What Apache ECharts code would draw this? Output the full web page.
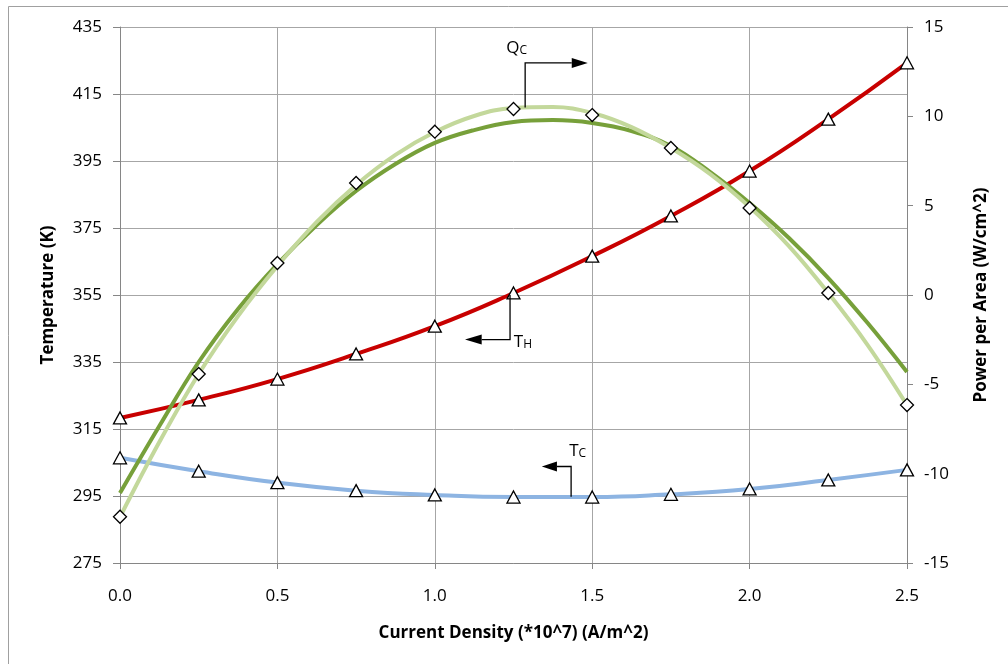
<!DOCTYPE html>
<html>
<head>
<meta charset="utf-8">
<script src="https://cdn.jsdelivr.net/npm/echarts@6/dist/echarts.min.js"></script>
<style>
html,body{margin:0;padding:0;background:#fff;}
#chart{width:1008px;height:664px;}
</style>
</head>
<body>
<div id="chart"></div>
<script>
// Current density (*10^7 A/m^2) at the measured points
var currentDensity = [0, 0.25, 0.5, 0.75, 1.0, 1.25, 1.5, 1.75, 2.0, 2.25, 2.5];
// Hot side temperature T_H (K), left axis
var tempHot = [318.3, 323.7, 329.9, 337.4, 345.7, 355.6, 366.6, 378.6, 392.0, 407.5, 424.3];
// Cold side temperature T_C (K), left axis
var tempCold = [306.4, 302.4, 299.0, 296.6, 295.3, 294.7, 294.7, 295.5, 297.1, 299.8, 302.8];
// Cooling power Q_C (W/cm^2), right axis - diamond points
var coolingPower = [-12.41, -4.42, 1.79, 6.27, 9.14, 10.41, 10.07, 8.23, 4.87, 0.11, -6.16];

// Curves at finer steps (right axis, W/cm^2)
var curveDensity = [0, 0.125, 0.25, 0.375, 0.5, 0.625, 0.75, 0.875, 1.0, 1.125, 1.25,
                    1.375, 1.5, 1.625, 1.75, 1.875, 2.0, 2.125, 2.25, 2.375, 2.5];
var coolingFit = [-12.43, -8.23, -4.42, -1.18, 1.62, 4.09, 6.16, 7.84, 9.12, 10.02, 10.47,
                  10.52, 10.19, 9.40, 8.23, 6.77, 4.93, 2.74, 0.11, -2.80, -6.16];
var coolingModel = [-11.08, -7.33, -3.75, -0.78, 1.73, 3.92, 5.82, 7.33, 8.51, 9.23, 9.68,
                    9.79, 9.63, 9.18, 8.34, 6.88, 5.15, 3.19, 0.95, -1.57, -4.31];

var xTicks = ['0.0', '0.5', '1.0', '1.5', '2.0', '2.5'];

function pairs(xs, ys) { return xs.map(function (x, i) { return [x, ys[i]]; }); }

var FONT = 'Open Sans';
var chart = echarts.init(document.getElementById('chart'), null, {renderer: 'canvas'});

var option = {
  animation: false,
  backgroundColor: '#ffffff',
  grid: {left: 120, right: 101, top: 27, bottom: 101, containLabel: false},
  xAxis: {
    type: 'value', min: 0, max: 2.5, interval: 0.5,
    name: 'Current Density (*10^7) (A/m^2)', nameLocation: 'middle', nameGap: 62,
    nameTextStyle: {fontFamily: FONT, fontWeight: 'bold', fontSize: 17, color: '#000'},
    axisLine: {show: true, onZero: false, lineStyle: {color: '#868686', width: 1}},
    axisTick: {show: true, length: 6, lineStyle: {color: '#868686'}},
    axisLabel: {fontFamily: FONT, fontSize: 17, color: '#000', margin: 25,
      formatter: function (v) { var i = Math.round(v / 0.5); return xTicks[i] !== undefined ? xTicks[i] : v.toFixed(1); }},
    splitLine: {show: true, lineStyle: {color: '#a6a6a6', width: 1}}
  },
  yAxis: [
    {
      type: 'value', min: 275, max: 435, interval: 20, position: 'left',
      name: 'Temperature (K)', nameLocation: 'middle', nameGap: 63, nameRotate: 90,
      nameTextStyle: {fontFamily: FONT, fontWeight: 'bold', fontSize: 17, color: '#000'},
      axisLine: {show: true, lineStyle: {color: '#868686', width: 1}},
      axisTick: {show: true, length: 7, lineStyle: {color: '#868686'}},
      axisLabel: {fontFamily: FONT, fontSize: 17, color: '#000', margin: 18},
      splitLine: {show: true, lineStyle: {color: '#a6a6a6', width: 1}}
    },
    {
      type: 'value', min: -15, max: 15, interval: 5, position: 'right',
      name: 'Power per Area (W/cm^2)', nameLocation: 'middle', nameGap: 66, nameRotate: 90,
      nameTextStyle: {fontFamily: FONT, fontWeight: 'bold', fontSize: 17, color: '#000'},
      axisLine: {show: true, lineStyle: {color: '#868686', width: 1}},
      axisTick: {show: true, length: 6, lineStyle: {color: '#868686'}},
      axisLabel: {fontFamily: FONT, fontSize: 17, color: '#000', margin: 17},
      splitLine: {show: false}
    }
  ],
  series: [
    {
      name: 'T_C', type: 'line', yAxisIndex: 0, smooth: 0.5,
      data: pairs(currentDensity, tempCold),
      lineStyle: {color: '#8db4e2', width: 4},
      symbol: 'triangle', symbolSize: [13, 12], showSymbol: true,
      itemStyle: {color: '#ffffff', borderColor: '#000', borderWidth: 1.3},
      z: 2
    },
    {
      name: 'T_H', type: 'line', yAxisIndex: 0, smooth: 0.5,
      data: pairs(currentDensity, tempHot),
      lineStyle: {color: '#c80000', width: 4},
      symbol: 'triangle', symbolSize: [13, 12], showSymbol: true,
      itemStyle: {color: '#ffffff', borderColor: '#000', borderWidth: 1.3},
      z: 3
    },
    {
      name: 'Q_C model', type: 'line', yAxisIndex: 1, smooth: 0.4,
      data: pairs(curveDensity, coolingModel),
      lineStyle: {color: '#77a03a', width: 4},
      symbol: 'none',
      z: 4
    },
    {
      name: 'Q_C fit', type: 'line', yAxisIndex: 1, smooth: 0.4,
      data: pairs(curveDensity, coolingFit),
      lineStyle: {color: '#c3d89b', width: 4},
      symbol: 'none',
      z: 5
    },
    {
      name: 'Q_C', type: 'scatter', yAxisIndex: 1,
      data: pairs(currentDensity, coolingPower),
      symbol: 'diamond', symbolSize: [13, 13],
      itemStyle: {color: '#ffffff', borderColor: '#000', borderWidth: 1.3, opacity: 1},
      z: 6
    }
  ]
};
chart.setOption(option);

// Annotation callouts (data coordinates) with axis index
var qcCallout = {axis: 1, pts: [[1.287, 10.5], [1.287, 12.99], [1.435, 12.99]], tip: [1.486, 12.99]};
var thCallout = {axis: 0, pts: [[1.239, 355.0], [1.239, 341.7], [1.149, 341.7]], tip: [1.096, 341.7]};
var tcCallout = {axis: 0, pts: [[1.433, 294.8], [1.433, 303.8], [1.388, 303.8]], tip: [1.340, 303.8]};

function px(axis, p) {
  return chart.convertToPixel({xAxisIndex: 0, yAxisIndex: axis}, p);
}

function callout(c) {
  var pts = c.pts.map(function (p) { return px(c.axis, p); });
  var tip = px(c.axis, c.tip);
  var last = pts[pts.length - 1];
  return [{
    type: 'polyline', shape: {points: pts}, silent: true,
    style: {stroke: '#000', lineWidth: 1.3, fill: null}, z: 100
  }, {
    type: 'polygon', silent: true,
    shape: {points: [[tip[0], tip[1]], [last[0], last[1] - 5], [last[0], last[1] + 5]]},
    style: {fill: '#000'}, z: 100
  }];
}

function subLabel(main, sub, x, y) {
  return {
    type: 'text', x: x, y: y, silent: true, z: 100,
    style: {
      text: '{m|' + main + '}{s|' + sub + '}',
      rich: {
        m: {fontFamily: FONT, fontSize: 17, fill: '#000', verticalAlign: 'bottom'},
        s: {fontFamily: FONT, fontSize: 12, fill: '#000', verticalAlign: 'bottom'}
      },
      verticalAlign: 'top'
    }
  };
}

var qcL = px(1, [1.227, 14.27]);
var thL = px(0, [1.251, 343.6]);
var tcL = px(0, [1.427, 310.8]);

var gfx = [].concat(callout(qcCallout), callout(thCallout), callout(tcCallout));
gfx.push(subLabel('Q', 'C', qcL[0], qcL[1]));
gfx.push(subLabel('T', 'H', thL[0], thL[1]));
gfx.push(subLabel('T', 'C', tcL[0], tcL[1]));
gfx.push({
  type: 'rect', silent: true, z: -1,
  shape: {x: 8.5, y: 6.5, width: 1020, height: 680},
  style: {fill: null, stroke: '#a0a0a0', lineWidth: 1}
});

chart.setOption({graphic: {elements: gfx}});
</script>
</body>
</html>
